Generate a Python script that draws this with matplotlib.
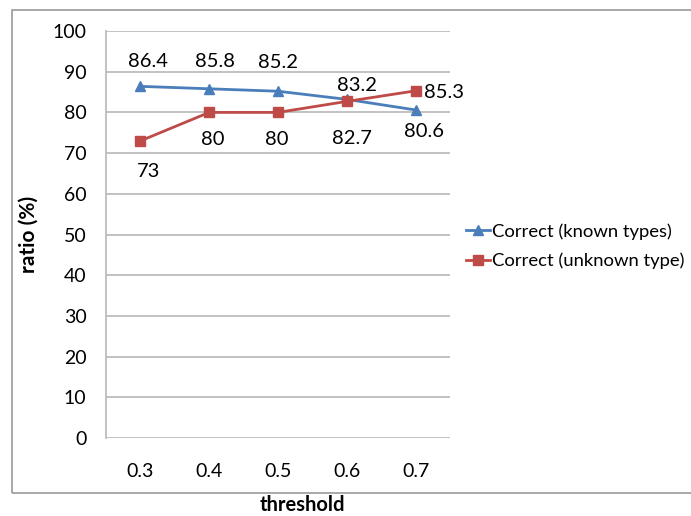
import matplotlib.pyplot as plt
from matplotlib.patches import Rectangle

thresholds = ["0.3", "0.4", "0.5", "0.6", "0.7"]
known = [86.4, 85.8, 85.2, 83.2, 80.6]
unknown = [73, 80, 80, 82.7, 85.3]

# label offsets in pixels (dx, dy), y up
known_off = [(8, 25), (6, 27), (0, 29), (10, 14), (8, -22)]
unknown_off = [(8, -31), (4, -27), (-1, -27), (5, -37), (28, -2)]

BLUE = "#4a7ebb"
RED = "#be4b48"
GRID = "#bdbdbd"

plt.rcParams["font.family"] = ["Lato", "DejaVu Sans"]

fig = plt.figure(figsize=(6.91, 5.16), dpi=100)
ax = fig.add_axes([106 / 691, 1 - 438 / 516, 344 / 691, 407 / 516])

x = list(range(len(thresholds)))
ax.plot(x, known, color=BLUE, lw=2, marker="^", ms=7, label="Correct (known types)")
ax.plot(x, unknown, color=RED, lw=2, marker="s", ms=7, label="Correct (unknown type)")

for xi, v, (dx, dy) in zip(x, known, known_off):
    ax.annotate(f"{v:g}", (xi, v), xytext=(dx, dy), textcoords="offset pixels",
                ha="center", va="center", fontsize=14.5, annotation_clip=False)
for xi, v, (dx, dy) in zip(x, unknown, unknown_off):
    ax.annotate(f"{v:g}", (xi, v), xytext=(dx, dy), textcoords="offset pixels",
                ha="center", va="center", fontsize=14.5, annotation_clip=False)

ax.set_xlim(-0.5, len(thresholds) - 0.5)
ax.set_ylim(0, 100)
ax.set_yticks(range(0, 101, 10))
ax.set_xticks(x)
ax.set_xticklabels(thresholds)
ax.tick_params(axis="both", length=0, labelsize=14)
ax.tick_params(axis="y", pad=14)
ax.tick_params(axis="x", pad=18)
ax.grid(axis="y", color=GRID, lw=1.3)
ax.set_axisbelow(True)
for side in ["top", "right", "bottom"]:
    ax.spines[side].set_visible(False)
ax.spines["left"].set_color(GRID)
ax.spines["left"].set_linewidth(1.3)

ax.set_ylabel("ratio (%)", fontsize=15, fontweight="bold", labelpad=10)
fig.text(302 / 691, 1 - 505 / 516, "threshold", fontsize=14.5, fontweight="bold",
         ha="center", va="center")

leg = ax.legend(loc="center left", bbox_to_anchor=(462 / 691, 1 - 246 / 516),
                bbox_transform=fig.transFigure, frameon=False,
                fontsize=13.3, handlelength=1.3, handletextpad=0.1, labelspacing=0.7,
                borderaxespad=0, borderpad=0.2)

# chart frame
fig.patches.append(Rectangle((12 / 691, 1 - 493 / 516), 700 / 691, 483 / 516,
                             transform=fig.transFigure, fill=False,
                             edgecolor="#9a9a9a", lw=1.2))

fig.savefig("out.png", dpi=100)
